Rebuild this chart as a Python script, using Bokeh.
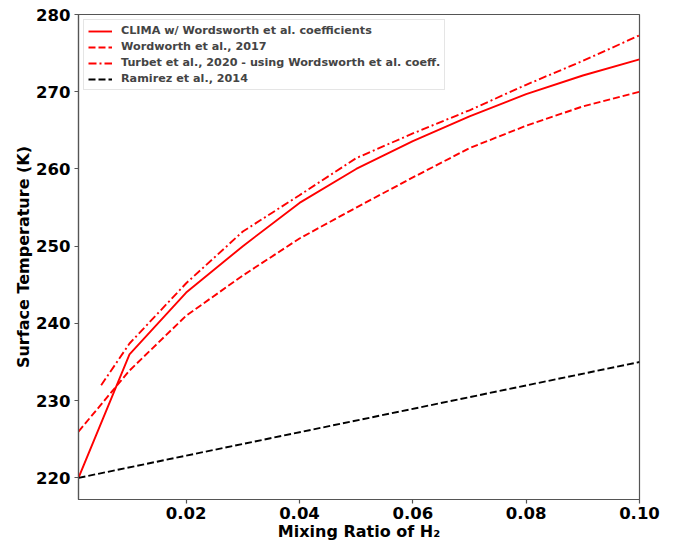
from bokeh.plotting import figure
from bokeh.embed import file_html
from bokeh.resources import INLINE
from bokeh.models import Range1d, FixedTicker, NumeralTickFormatter, Legend, LegendItem

# Data
x_clima = [0.001, 0.01, 0.02, 0.03, 0.04, 0.05, 0.06, 0.07, 0.08, 0.09, 0.10]
t_clima = [220.0, 236.0, 244.0, 250.0, 255.6, 260.0, 263.6, 266.8, 269.7, 272.1, 274.2]

x_words = [0.001, 0.01, 0.02, 0.03, 0.04, 0.05, 0.06, 0.07, 0.08, 0.09, 0.10]
t_words = [226.0, 233.9, 241.0, 246.2, 251.0, 255.0, 258.9, 262.7, 265.6, 268.1, 270.0]

x_turbet = [0.005, 0.01, 0.02, 0.03, 0.04, 0.05, 0.06, 0.07, 0.08, 0.09, 0.10]
t_turbet = [232.0, 237.4, 245.2, 251.9, 256.6, 261.4, 264.6, 267.6, 270.9, 274.0, 277.3]

x_ramirez = [0.001, 0.10]
t_ramirez = [220.0, 235.0]

labels = ["CLIMA w/ Wordsworth et al. coefficients",
          "Wordworth et al., 2017",
          "Turbet et al., 2020 - using Wordsworth et al. coeff.",
          "Ramirez et al., 2014"]

x_ticks = [0.02, 0.04, 0.06, 0.08, 0.10]
y_ticks = [220, 230, 240, 250, 260, 270, 280]

p = figure(width=673, height=544, output_backend="svg", toolbar_location=None,
           x_range=Range1d(0.001, 0.10), y_range=Range1d(217.2, 280.0),
           min_border_left=78, min_border_right=34, min_border_top=14, min_border_bottom=45)

font = "DejaVu Sans"
axis_color = "#555555"

r1 = p.line(x_clima, t_clima, line_color="#ff0000", line_width=1.9)
r2 = p.line(x_words, t_words, line_color="#ff0000", line_width=1.9, line_dash="7 3")
r3 = p.line(x_turbet, t_turbet, line_color="#ff0000", line_width=1.9, line_dash="8 3 2 3")
r4 = p.line(x_ramirez, t_ramirez, line_color="#000000", line_width=1.9, line_dash="7 3")

legend = Legend(items=[LegendItem(label=labels[0], renderers=[r1]),
                       LegendItem(label=labels[1], renderers=[r2]),
                       LegendItem(label=labels[2], renderers=[r3]),
                       LegendItem(label=labels[3], renderers=[r4])],
                location="top_left")
legend.label_text_font = font
legend.label_text_font_style = "bold"
legend.label_text_font_size = "11.2px"
legend.label_height = 12
legend.glyph_height = 12
legend.glyph_width = 24
legend.spacing = 3
legend.padding = 4
legend.margin = 5
legend.label_standoff = 9
legend.border_line_color = "#cccccc"
legend.border_line_width = 1
legend.background_fill_alpha = 0.8
p.add_layout(legend)

p.xgrid.visible = False
p.ygrid.visible = False
p.outline_line_color = axis_color
p.outline_line_width = 1.2

p.xaxis.ticker = FixedTicker(ticks=x_ticks)
p.yaxis.ticker = FixedTicker(ticks=y_ticks)
p.xaxis.formatter = NumeralTickFormatter(format="0.00")

for ax in (p.xaxis, p.yaxis):
    ax.axis_line_color = axis_color
    ax.axis_line_width = 1.2
    ax.major_tick_line_color = axis_color
    ax.major_tick_line_width = 1.2
    ax.major_tick_out = 4
    ax.major_tick_in = 0
    ax.minor_tick_line_color = None
    ax.major_label_text_font = font
    ax.major_label_text_font_style = "bold"
    ax.major_label_text_font_size = "16.5px"
    ax.major_label_text_color = "black"
    ax.axis_label_text_font = font
    ax.axis_label_text_font_style = "bold"
    ax.axis_label_text_font_size = "16px"
    ax.axis_label_text_color = "black"

p.xaxis.axis_label = "Mixing Ratio of H\u2082"
p.yaxis.axis_label = "Surface Temperature (K)"
p.xaxis.major_label_standoff = 3
p.yaxis.major_label_standoff = 4
p.xaxis.axis_label_standoff = 0
p.yaxis.axis_label_standoff = 0

open("out.html", "w").write(file_html(p, INLINE))
